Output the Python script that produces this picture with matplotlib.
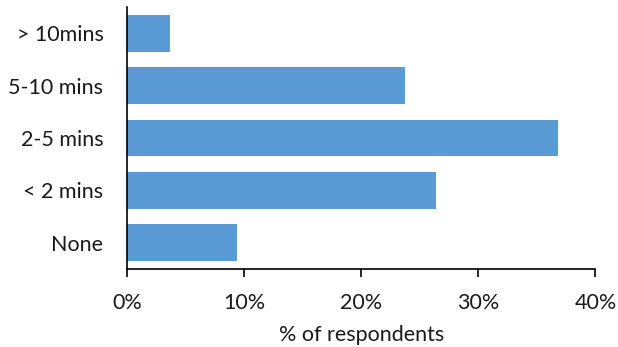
import matplotlib
matplotlib.use('Agg')
import matplotlib.pyplot as plt
from matplotlib.ticker import FuncFormatter

# survey data, bottom to top
categories = ['None', '< 2 mins', '2-5 mins', '5-10 mins', '> 10mins']
values = [9.4, 26.4, 36.8, 23.7, 3.7]
xticks = [0, 10, 20, 30, 40]

plt.rcParams['font.family'] = ['Lato', 'DejaVu Sans']

fig = plt.figure(figsize=(6.18, 3.47), dpi=100)
ax = fig.add_axes([0.2055, 0.2248, 0.758, 0.755])

ax.barh(categories, values, height=0.7, color='#5B9BD5')

ax.set_xlim(0, 40)
ax.set_ylim(-0.5, 4.5)
ax.set_xticks(xticks)
ax.xaxis.set_major_formatter(FuncFormatter(lambda v, p: '%d%%' % v))
ax.set_xlabel('% of respondents', fontsize=15.5, color='#1a1a1a', labelpad=9)

for s in ['top', 'right']:
    ax.spines[s].set_visible(False)
ax.spines['left'].set_linewidth(1.2)
ax.spines['bottom'].set_linewidth(1.2)
ax.tick_params(axis='y', length=0, pad=17, labelsize=15.5, labelcolor='#1a1a1a')
ax.tick_params(axis='x', length=6, width=1.2, direction='out', pad=11, labelsize=15.5, labelcolor='#1a1a1a')

plt.savefig('out.png', dpi=100)
